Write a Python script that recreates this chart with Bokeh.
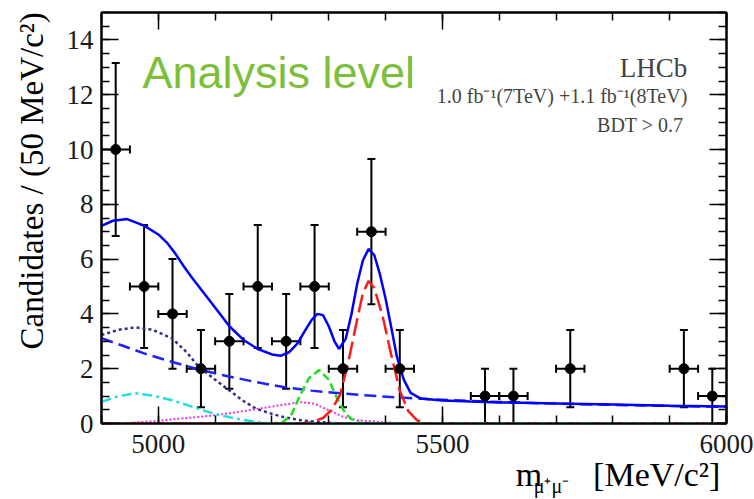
from bokeh.plotting import figure
from bokeh.models import (ColumnDataSource, Whisker, TeeHead, Label, LinearAxis,
                          FixedTicker, CustomJSTickFormatter, Range1d)
from bokeh.embed import file_html
from bokeh.resources import INLINE

# ---------------- data ----------------
bin_centers = [4925, 4975, 5025, 5075, 5125, 5175, 5225, 5275, 5325, 5375,
               5425, 5575, 5625, 5725, 5925, 5975]
counts = [10, 5, 4, 2, 3, 5, 3, 5, 2, 7, 2, 1, 1, 2, 2, 1]
count_errors = [3.16, 2.24, 2.0, 1.41, 1.73, 2.24, 1.73, 2.24, 1.41, 2.65,
                1.41, 1.0, 1.0, 1.41, 1.41, 1.0]
bin_half_width = 25

total_x = [4900, 4920, 4945, 4975, 5000, 5016, 5030, 5045, 5060, 5075, 5090, 5110,
           5125, 5150, 5175, 5200, 5215, 5230, 5245, 5260, 5270, 5280, 5290, 5300,
           5310, 5318, 5330, 5340, 5350, 5360, 5370, 5380, 5390, 5400, 5410, 5420,
           5432, 5444, 5462, 5500, 5550, 5600, 5700, 5800, 5900, 6000]
total_y = [7.21, 7.40, 7.46, 7.22, 6.90, 6.58, 6.20, 5.73, 5.30, 4.90, 4.50, 3.96,
           3.55, 3.05, 2.72, 2.52, 2.47, 2.60, 2.92, 3.45, 3.78, 4.00, 3.95, 3.55,
           3.00, 2.72, 3.10, 4.00, 5.10, 5.95, 6.37, 6.15, 5.45, 4.55, 3.50, 2.43,
           1.60, 1.12, 0.91, 0.84, 0.80, 0.77, 0.73, 0.69, 0.65, 0.62]

comb_x = [4900, 4940, 4975, 5020, 5065, 5110, 5170, 5220, 5270, 5320, 5390, 5456,
          5550, 5672, 5800, 5900, 6000]
comb_y = [3.11, 2.82, 2.56, 2.27, 2.01, 1.78, 1.52, 1.33, 1.20, 1.10, 0.99, 0.91,
          0.82, 0.74, 0.68, 0.64, 0.61]

partreco_x = [4900, 4930, 4960, 4990, 5024, 5050, 5071, 5100, 5124, 5150, 5171,
              5200, 5220, 5250, 5280, 5320, 6000]
partreco_y = [3.23, 3.42, 3.51, 3.42, 3.11, 2.60, 2.07, 1.60, 1.22, 0.82, 0.55,
              0.35, 0.24, 0.12, 0.06, 0.0, 0.0]

cyan_x = [4900, 4930, 4960, 4990, 5024, 5050, 5077, 5105, 5136, 5171, 5200, 6000]
cyan_y = [0.79, 1.00, 1.10, 1.02, 0.85, 0.68, 0.49, 0.32, 0.18, 0.06, 0.0, 0.0]

magenta_x = [4900, 4950, 5000, 5050, 5100, 5150, 5200, 5250, 5275, 5300, 5325,
             5350, 5400, 5450, 6000]
magenta_y = [0.0, 0.02, 0.10, 0.20, 0.30, 0.45, 0.62, 0.78, 0.72, 0.48, 0.25,
             0.12, 0.04, 0.0, 0.0]

bd_x = [4900, 5200, 5220, 5235, 5250, 5265, 5283, 5300, 5315, 5330, 5345, 5360, 6000]
bd_y = [0.0, 0.0, 0.06, 0.35, 1.05, 1.65, 1.95, 1.60, 0.90, 0.35, 0.08, 0.0, 0.0]

bs_x = [4900, 5250, 5270, 5290, 5305, 5320, 5335, 5350, 5360, 5370, 5380, 5395,
        5410, 5425, 5440, 5455, 5470, 6000]
bs_y = [0.0, 0.0, 0.05, 0.20, 0.50, 1.05, 2.30, 3.80, 4.75, 5.20, 4.95, 3.90,
        2.50, 1.20, 0.45, 0.12, 0.0, 0.0]

x_ticks = [5000, 5500, 6000]
x_minor_ticks = [4900, 5000, 5100, 5200, 5300, 5400, 5500, 5600, 5700, 5800, 5900, 6000]
y_ticks = [0, 2, 4, 6, 8, 10, 12, 14]
y_minor_ticks = [i * 0.5 for i in range(31)]

NB = "\u00a0"   # non-breaking spaces shift the centred axis titles to their place
y_title = NB * 9 + "Candidates / (50 MeV/c\u00b2)"
x_title_main = NB * 48 + "m" + NB * 6 + "[MeV/c\u00b2]"
x_title_sub = NB * 55 + "\u03bc\u207a\u03bc\u207b"
info_lines = ["LHCb", "1.0 fb\u207b\u00b9(7TeV) +1.1 fb\u207b\u00b9(8TeV)", "BDT > 0.7"]
overlay_text = "Analysis level"

# ---------------- figure ----------------
SERIF = "Liberation Serif"

p = figure(width=754, height=499, x_range=Range1d(4900, 6000), y_range=Range1d(0, 15),
           output_backend="svg", toolbar_location=None,
           min_border_left=101, min_border_right=28, min_border_top=12, min_border_bottom=76)
p.grid.visible = False
p.outline_line_color = "black"
p.outline_line_width = 2
p.background_fill_color = "white"
p.border_fill_color = "white"


def style_axis(ax):
    ax.axis_line_color = "black"
    ax.axis_line_width = 2
    ax.major_tick_in = 17
    ax.major_tick_out = 0
    ax.minor_tick_in = 8
    ax.minor_tick_out = 0
    ax.major_tick_line_color = "black"
    ax.minor_tick_line_color = "black"
    ax.major_tick_line_width = 1.5
    ax.minor_tick_line_width = 1.5
    ax.major_label_text_font = SERIF
    ax.major_label_text_font_size = "27px"
    ax.major_label_text_color = "#1a1a1a"
    ax.axis_label_text_font = SERIF
    ax.axis_label_text_font_style = "normal"
    ax.axis_label_text_color = "black"


xt = FixedTicker(ticks=x_ticks, minor_ticks=x_minor_ticks)
yt = FixedTicker(ticks=y_ticks, minor_ticks=y_minor_ticks)

xa = p.xaxis[0]
xa.ticker = xt
style_axis(xa)
xa.major_label_standoff = 11
xa.axis_label = x_title_main
xa.axis_label_text_font_size = "34px"
xa.axis_label_standoff_mode = "axis"
xa.axis_label_standoff = 32

ya = p.yaxis[0]
ya.ticker = yt
style_axis(ya)
ya.major_label_standoff = 8
ya.axis_label = y_title
ya.axis_label_text_font_size = "33px"
ya.axis_label_standoff_mode = "axis"
ya.axis_label_standoff = 52

# subscript of the x title: an extra tick-less axis below
sub = LinearAxis(ticker=FixedTicker(ticks=[], minor_ticks=[]),
                 formatter=CustomJSTickFormatter(code="return ''"))
sub.axis_line_color = None
sub.major_tick_line_color = None
sub.minor_tick_line_color = None
sub.major_tick_in = 0
sub.major_tick_out = 0
sub.minor_tick_in = 0
sub.minor_tick_out = 0
sub.major_label_standoff = 0
sub.major_label_text_font_size = "0px"
sub.axis_label = x_title_sub
sub.axis_label_text_font = SERIF
sub.axis_label_text_font_style = "normal"
sub.axis_label_text_font_size = "20px"
sub.axis_label_text_color = "black"
sub.axis_label_standoff = -21
p.add_layout(sub, "below")

blank = CustomJSTickFormatter(code="return ''")
top = LinearAxis(ticker=xt, formatter=blank)
style_axis(top)
top.major_label_text_font_size = "0px"
top.major_label_standoff = 0
p.add_layout(top, "above")

right = LinearAxis(ticker=yt, formatter=blank)
style_axis(right)
right.major_label_text_font_size = "0px"
right.major_label_standoff = 0
p.add_layout(right, "right")

# ---------------- curves ----------------
p.line(comb_x, comb_y, line_color="#1f1fff", line_width=2.5, line_dash="12 6")
p.line(partreco_x, partreco_y, line_color="#2e2e8c", line_width=2.5, line_dash="3 3")
p.line(magenta_x, magenta_y, line_color="#ee33ee", line_width=2, line_dash="2 2")
p.line(bd_x, bd_y, line_color="#22dd22", line_width=2.5, line_dash="8 4")
p.line(bs_x, bs_y, line_color="#ff1a1a", line_width=2.5, line_dash="18 6")
p.line(cyan_x, cyan_y, line_color="#22dddd", line_width=2.5, line_dash="10 4 3 4")
p.line(total_x, total_y, line_color="#0000ff", line_width=2.5)

# ---------------- data points ----------------
src = ColumnDataSource(dict(
    x=bin_centers, y=counts,
    lo=[c - e for c, e in zip(counts, count_errors)],
    hi=[c + e for c, e in zip(counts, count_errors)],
    xl=[b - bin_half_width for b in bin_centers],
    xr=[b + bin_half_width for b in bin_centers],
))
vw = Whisker(source=src, base="x", lower="lo", upper="hi", dimension="height",
             line_color="black", line_width=2,
             lower_head=TeeHead(size=8, line_color="black", line_width=2),
             upper_head=TeeHead(size=8, line_color="black", line_width=2))
hw = Whisker(source=src, base="y", lower="xl", upper="xr", dimension="width",
             line_color="black", line_width=2,
             lower_head=TeeHead(size=8, line_color="black", line_width=2),
             upper_head=TeeHead(size=8, line_color="black", line_width=2))
p.add_layout(vw)
p.add_layout(hw)
p.scatter("x", "y", source=src, size=10, color="black")

# ---------------- texts inside the frame ----------------
p.add_layout(Label(x=4972, y=12.80, text=overlay_text, text_font="Liberation Sans",
                   text_font_size="45px", text_color="#7cc03a", text_baseline="alphabetic"))
p.add_layout(Label(x=5931, y=12.98, text=info_lines[0], text_font=SERIF,
                   text_font_size="27px", text_align="right", text_baseline="alphabetic"))
p.add_layout(Label(x=5931, y=11.94, text=info_lines[1], text_font=SERIF,
                   text_font_size="20px", text_align="right", text_baseline="alphabetic"))
p.add_layout(Label(x=5924, y=10.91, text=info_lines[2], text_font=SERIF,
                   text_font_size="20px", text_align="right", text_baseline="alphabetic"))

open("out.html", "w").write(file_html(p, INLINE))
